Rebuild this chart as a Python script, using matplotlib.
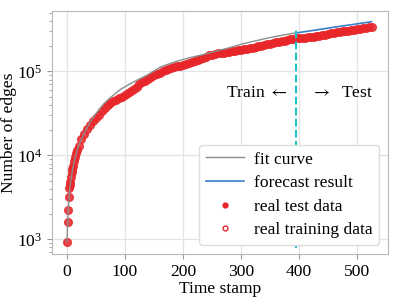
import matplotlib
matplotlib.use("Agg")
import matplotlib.pyplot as plt
from matplotlib.lines import Line2D

plt.rcParams["font.family"] = ["Liberation Serif", "DejaVu Serif"]
plt.rcParams["mathtext.fontset"] = "stix"
plt.rcParams["font.size"] = 12.6

# real data (time stamp, number of edges)
train_t = [0, 1, 2, 3, 4, 5, 6, 7, 8, 9, 10, 12, 14, 16, 18, 20, 25, 30, 35, 40,
           45, 50, 55, 60, 65, 70, 75, 80, 85, 90, 95, 100, 105, 110, 115, 120,
           125, 130, 135, 140, 145, 150, 155, 160, 165, 170, 175, 180, 185, 190,
           195, 200, 205, 210, 215, 220, 225, 230, 235, 240, 245, 250, 255, 260,
           265, 270, 275, 280, 285, 290, 295, 300, 305, 310, 315, 320, 325, 330,
           335, 340, 345, 350, 355, 360, 365, 370, 375, 380, 385, 390, 395]
train_y = [940, 1620, 2230, 3200, 4050, 4400, 4850, 5500, 6300, 6800, 7400, 8600,
           9600, 10600, 11500, 12800, 15500, 18000, 20500, 22800, 25500, 28000,
           30500, 33500, 37000, 39500, 42000, 44000, 46000, 48000, 50000, 52500,
           55000, 58000, 62000, 66000, 70000, 74000, 78000, 82000, 86000, 90000,
           93500, 97000, 100000, 103000, 106000, 109000, 112000, 115000, 117000,
           120000, 123000, 126000, 129000, 132000, 136000, 140000, 144000, 150000,
           156000, 159000, 162000, 164000, 166000, 168000, 170000, 172000, 174000,
           176000, 178000, 180000, 183000, 186000, 190000, 193000, 197000, 200000,
           204000, 208000, 212000, 215000, 219000, 222000, 226000, 230000, 234000,
           238000, 242000, 247000, 250000]
test_t = [400, 405, 410, 415, 420, 425, 430, 435, 440, 445, 450, 455, 460, 465,
          470, 475, 480, 485, 490, 495, 500, 505, 510, 515, 520, 525]
test_y = [252000, 253000, 254000, 254500, 255000, 258000, 262000, 266000, 270000,
          275000, 280000, 284000, 288000, 292000, 296000, 300000, 304000, 308000,
          312000, 316000, 320000, 324000, 328000, 332000, 337000, 340000]

# fitted curve on the training range
fit_t = [0, 2, 5, 10, 15, 20, 30, 40, 50, 63, 75, 92, 105, 121, 140, 161, 180,
         195, 215, 230, 259, 280, 299, 320, 342, 365, 388, 395]
fit_y = [940, 2200, 4200, 7000, 10000, 13000, 18500, 25000, 31500, 41000, 49000,
         61000, 69000, 79000, 92000, 113000, 126000, 136000, 148000, 156000,
         176000, 192000, 210000, 228000, 247000, 266000, 284000, 288000]

# forecast on the test range
fc_t = [395, 430, 460, 490, 525]
fc_y = [288000, 313000, 337000, 361000, 392000]

split_t = 395

fig = plt.figure(figsize=(3.99, 2.98), dpi=100)
ax = fig.add_axes([0.13, 0.148, 0.842, 0.816])

red = "#e8262a"
ax.plot(train_t, train_y, "o", color=red, ms=5.5, mec=red, alpha=0.85, zorder=3)
ax.plot(test_t, test_y, "o", color=red, ms=5.5, mec=red, alpha=0.85, zorder=3)
ax.plot(fit_t, fit_y, color="#8c8c8c", lw=1.0, zorder=4)
ax.plot(fc_t, fc_y, color="#3a7dc4", lw=1.2, zorder=4)
ax.vlines(split_t, 790, 340000, colors="#22c3c8", linestyles="--", lw=1.5, zorder=5)

ax.set_yscale("log")
ax.set_xlim(-26, 553)
ax.set_ylim(670, 530000)
ax.set_xticks([0, 100, 200, 300, 400, 500])

ax.text(380, 55000, r"Train $\leftarrow$", ha="right", va="center")
ax.text(421, 55000, r"$\rightarrow$  Test", ha="left", va="center")

ax.set_xlabel("Time stamp", labelpad=1)
ax.set_ylabel("Number of edges")
ax.yaxis.set_label_coords(-0.103, 0.5)

ax.grid(True, which="major", color="#e3e3e3", lw=0.9, zorder=0)
ax.set_axisbelow(True)
for s in ax.spines.values():
    s.set_color("#b8b8b8")
ax.tick_params(which="both", color="#999999", labelsize=12.6)
ax.tick_params(which="major", length=3.5)
ax.tick_params(which="minor", length=2)

handles = [
    Line2D([], [], color="#8c8c8c", lw=1.0),
    Line2D([], [], color="#3a7dc4", lw=1.2),
    Line2D([], [], ls="", marker="o", color=red, ms=3.5),
    Line2D([], [], ls="", marker="o", mfc="none", mec=red, ms=3.5, mew=1),
]
labels = ["fit curve", "forecast result", "real test data", "real training data"]
leg = ax.legend(handles, labels, loc="lower right", fontsize=12.6, frameon=True,
                fancybox=True, framealpha=1, edgecolor="#dddddd",
                borderpad=0.37, labelspacing=0.42, handlelength=2.2,
                handletextpad=0.55, borderaxespad=0,
                bbox_to_anchor=(0.974, 0.037))
leg.set_zorder(10)

fig.savefig("out.png", dpi=100)
